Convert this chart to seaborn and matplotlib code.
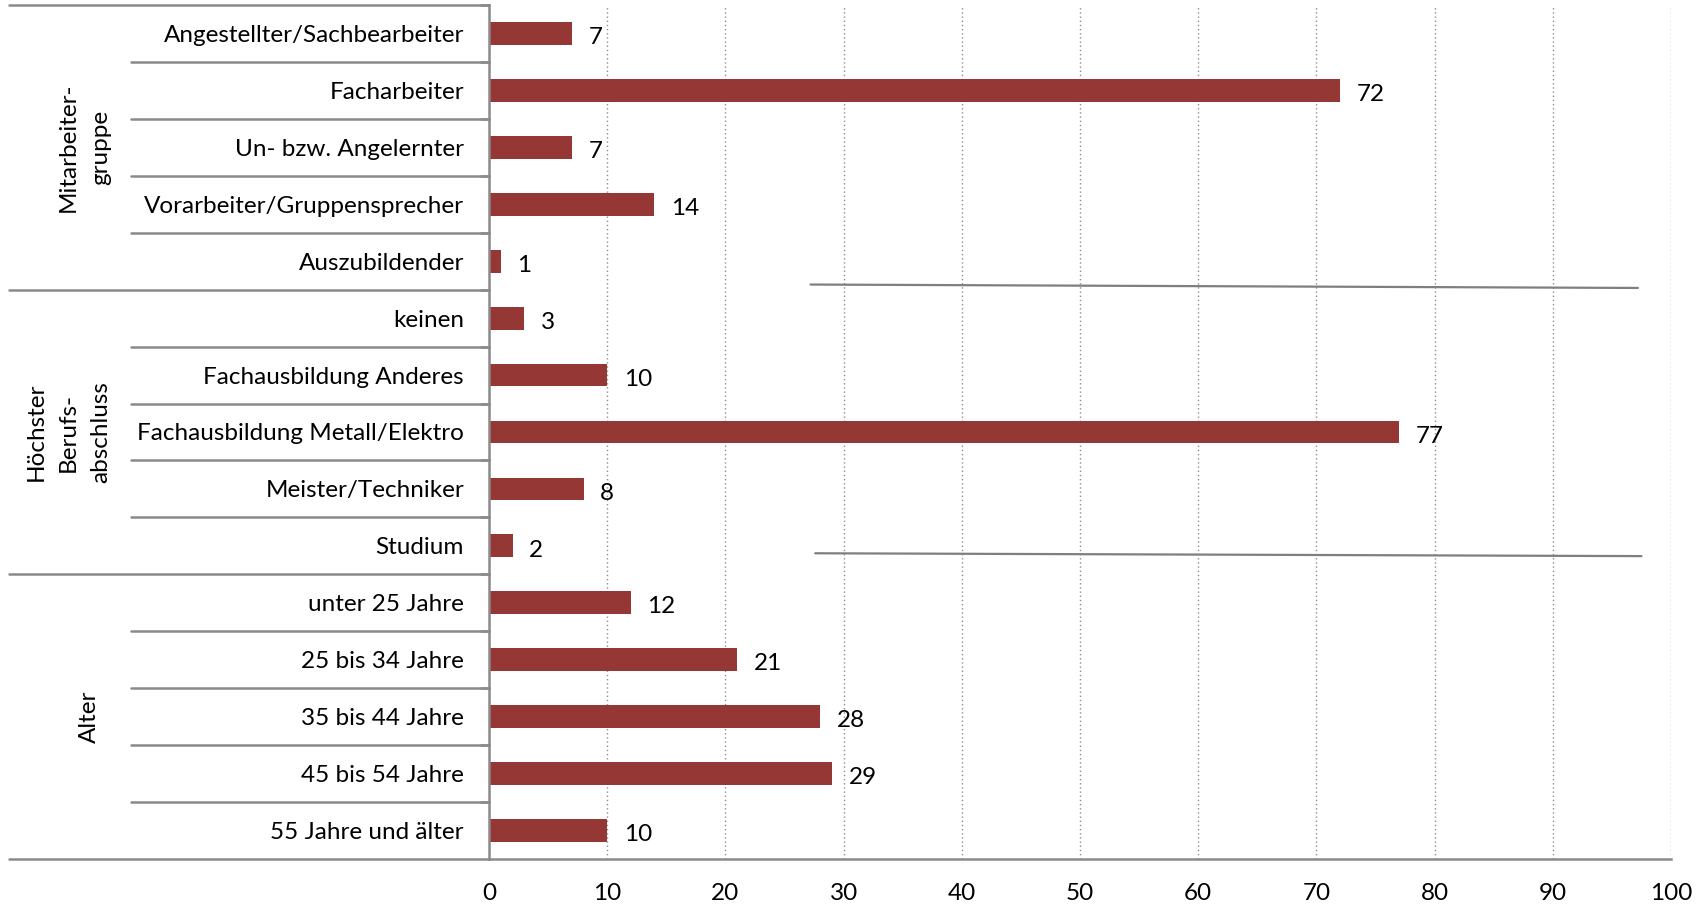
import matplotlib
matplotlib.use("Agg")
import matplotlib.pyplot as plt
import seaborn as sns
import pandas as pd
import numpy as np
from matplotlib.transforms import blended_transform_factory, offset_copy

categories = ["Angestellter/Sachbearbeiter", "Facharbeiter", "Un- bzw. Angelernter",
              "Vorarbeiter/Gruppensprecher", "Auszubildender",
              "keinen", "Fachausbildung Anderes", "Fachausbildung Metall/Elektro",
              "Meister/Techniker", "Studium",
              "unter 25 Jahre", "25 bis 34 Jahre", "35 bis 44 Jahre",
              "45 bis 54 Jahre", "55 Jahre und älter"]
values = [7, 72, 7, 14, 1, 3, 10, 77, 8, 2, 12, 21, 28, 29, 10]
group_labels = ["Mitarbeiter-\ngruppe", "Höchster\nBerufs-\nabschluss", "Alter"]
group_sizes = [5, 5, 5]
x_ticks = list(range(0, 101, 10))

sns.set_theme(style="white")
plt.rcParams["font.family"] = ["Lato", "DejaVu Sans"]

FS = 17.5
BAR = "#953735"
GRAY = "#8a8a8a"

fig = plt.figure(figsize=(17.07, 9.07), dpi=100)
ax = fig.add_axes([489 / 1707, 1 - 859 / 907, (1671 - 489) / 1707, (859 - 5) / 907])

df = pd.DataFrame({"cat": categories, "val": values})
sns.barplot(data=df, x="val", y="cat", order=categories, orient="h",
            color=BAR, saturation=1, width=0.4, ax=ax)
for p in ax.patches:
    p.set_edgecolor("none")

ax.set_xlim(0, 100)
ax.set_ylim(len(categories) - 0.5, -0.5)
ax.set_xticks(x_ticks)
ax.set_xticklabels([str(t) for t in x_ticks], fontsize=FS, color="black")
ax.set_yticks([])
ax.set_xlabel("")
ax.set_ylabel("")

for s in ["top", "right"]:
    ax.spines[s].set_visible(False)
for s in ["left", "bottom"]:
    ax.spines[s].set_color(GRAY)
    ax.spines[s].set_linewidth(1.8)

ax.tick_params(axis="x", direction="out", length=7, width=1.5, color=GRAY, pad=10)
ax.xaxis.grid(True, color="#8c8c8c", linestyle=(0, (1, 2)), linewidth=1.0)
ax.set_axisbelow(True)

labs = ax.bar_label(ax.containers[0], labels=[str(v) for v in values], padding=12,
                    fontsize=FS, color="black")
for t in labs:
    t.xyann = (12, -3)

# category labels
tr = blended_transform_factory(ax.transAxes, ax.transData)
tr_txt = offset_copy(tr, fig=fig, x=0, y=-2, units="dots")
for i, c in enumerate(categories):
    ax.text(-25 / 1182, i, c, transform=tr_txt, ha="right", va="center",
            fontsize=FS, color="black")

# separators
x_inner = (131 - 489) / 1182
x_outer = (9 - 489) / 1182
bounds = np.cumsum([0] + group_sizes)
group_edges = set(bounds.tolist())
for b in range(0, len(categories) + 1):
    y = b - 0.5
    x0 = x_outer if b in group_edges else x_inner
    ax.plot([x0, 0], [y, y], transform=tr, color=GRAY, lw=1.8, clip_on=False)
    if b < len(categories):
        ax.plot([0, -8 / 1182], [y, y], transform=tr, color=GRAY, lw=1.8, clip_on=False)

# group labels
for g, (lab, n) in enumerate(zip(group_labels, group_sizes)):
    yc = bounds[g] + (n - 1) / 2
    ax.text((96 - 489) / 1182, yc, lab, transform=tr, rotation=90,
            rotation_mode="anchor", ha="center", va="baseline",
            multialignment="center", fontsize=FS, color="black", linespacing=1.65)

# stray drawing lines present in the original
ax.plot([27.2, 97.2], [4.41, 4.47], color="#7f7f7f", lw=1.6, clip_on=False)
ax.plot([27.6, 97.5], [9.13, 9.18], color="#7f7f7f", lw=1.6, clip_on=False)

fig.savefig("out.png", dpi=100, facecolor="white")
